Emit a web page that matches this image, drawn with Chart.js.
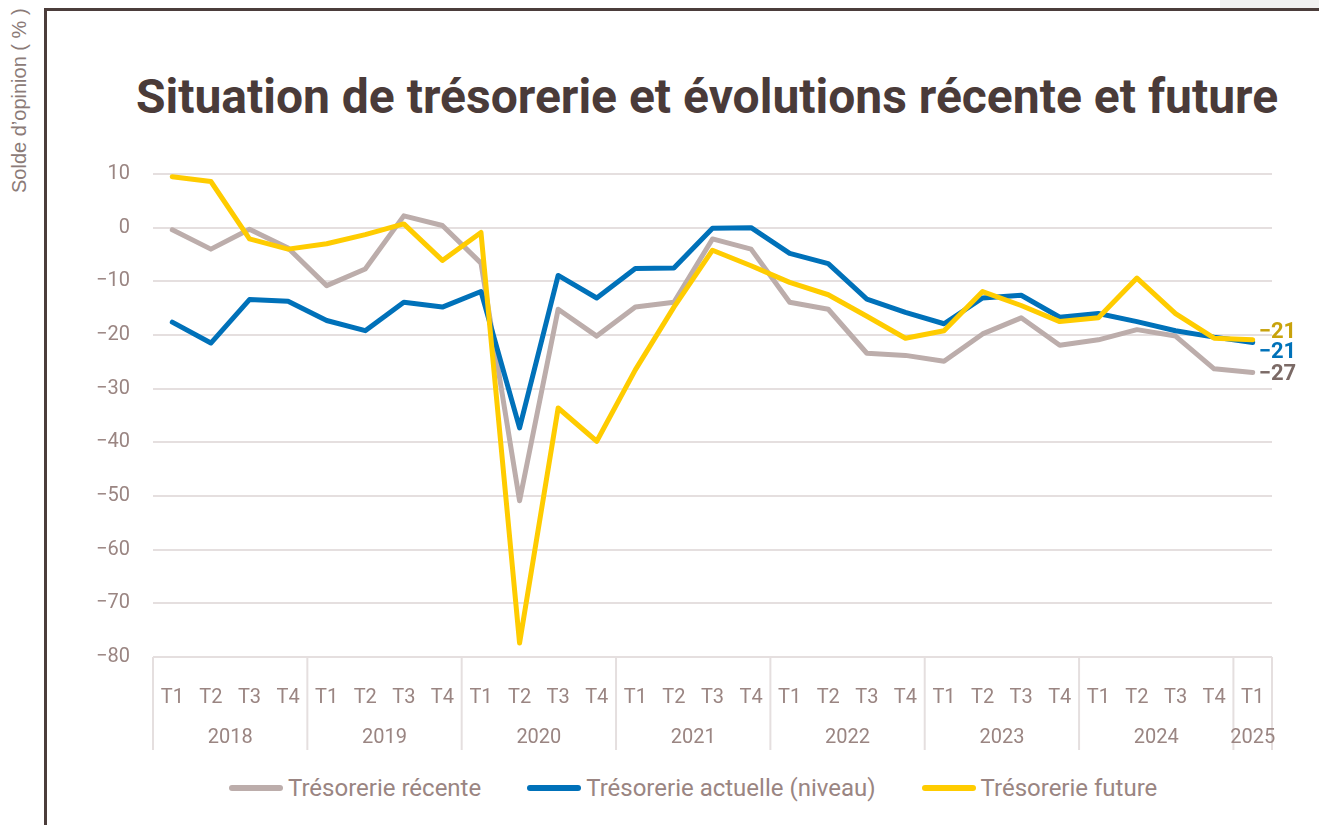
<!DOCTYPE html>
<html lang="fr">
<head>
<meta charset="utf-8">
<script src="https://cdn.jsdelivr.net/npm/chart.js@4.4.1/dist/chart.umd.min.js"></script>
<style>
  html, body { margin: 0; padding: 0; background: #fff; }
  body { width: 1319px; height: 825px; position: relative; overflow: hidden; font-family: Roboto, "DejaVu Sans", sans-serif; }
  #patch { position: absolute; left: 1220px; top: 0; width: 99px; height: 8px; background: #f1f1f1; }
  #frame { position: absolute; left: 44px; top: 8px; right: -10px; bottom: -10px; border-top: 3px solid #4b3d3b; border-left: 3px solid #4b3d3b; }
  #ytitle { position: absolute; left: 19px; top: 193px; transform-origin: 0 0; transform: rotate(-90deg) translateY(-50%);
            font-family: "Liberation Sans", Arial, sans-serif; font-size: 20px; color: #8b7b78; white-space: nowrap; }
  #title { position: absolute; left: 0; width: 1414px; top: 68px; text-align: center; font-size: 48px; font-weight: 700; color: #4a3b39; white-space: nowrap; }
  #legend { position: absolute; left: 229px; top: 774px; display: flex; align-items: center; font-size: 24px; color: #9a8582; }
  .item { display: flex; align-items: center; margin-right: 46px; }
  .swatch { width: 54px; height: 6px; border-radius: 3px; margin-right: 5px; }
  canvas { position: absolute; left: 0; top: 0; }
</style>
</head>
<body>
<div id="patch"></div>
<div id="frame"></div>
<div id="ytitle">Solde d’opinion ( % )</div>
<div id="title">Situation de trésorerie et évolutions récente et future</div>
<div id="legend"></div>
<canvas id="c" width="1319" height="825"></canvas>
<script>
'use strict';

/* ── Données ───────────────────────────────────────────── */
const trimestres = ['T1','T2','T3','T4','T1','T2','T3','T4','T1','T2','T3','T4','T1','T2','T3','T4',
                    'T1','T2','T3','T4','T1','T2','T3','T4','T1','T2','T3','T4','T1'];
const annees = ['2018','2018','2018','2018','2019','2019','2019','2019','2020','2020','2020','2020',
                '2021','2021','2021','2021','2022','2022','2022','2022','2023','2023','2023','2023',
                '2024','2024','2024','2024','2025'];
const tresoRecente = [-0.4, -4.0, -0.3, -3.8, -10.8, -7.7, 2.2, 0.4, -6.6, -50.9, -15.2, -20.2,
                      -14.8, -13.9, -2.1, -4.0, -13.9, -15.2, -23.4, -23.8, -24.9, -19.8, -16.8, -21.9,
                      -20.9, -19.0, -20.2, -26.3, -27.0];
const tresoActuelle = [-17.6, -21.5, -13.4, -13.7, -17.3, -19.2, -13.9, -14.8, -11.9, -37.3, -8.9, -13.1,
                       -7.6, -7.5, -0.1, 0.0, -4.8, -6.7, -13.3, -15.8, -17.9, -13.1, -12.6, -16.7,
                       -16.0, -17.5, -19.2, -20.4, -21.4];
const tresoFuture = [9.5, 8.6, -2.1, -4.0, -3.0, -1.3, 0.7, -6.1, -0.9, -77.4, -33.6, -39.8,
                     -26.5, -14.8, -4.2, -7.1, -10.2, -12.5, -16.5, -20.6, -19.2, -11.9, -14.5, -17.5,
                     -16.8, -9.4, -16.0, -20.6, -20.9];
const seriesNoms = ['Trésorerie récente', 'Trésorerie actuelle (niveau)', 'Trésorerie future'];
const yTicks = [10, 0, -10, -20, -30, -40, -50, -60, -70, -80];

const COL = { recente: '#bcadab', actuelle: '#0071b9', future: '#ffcc00', tick: '#9a8582', grid: '#e5dfdf' };
const endLabel = [
  { color: '#7b6a66', dy: 2 },
  { color: '#0071b9', dy: 10 },
  { color: '#c8a20c', dy: -7 }
];
const minus = v => String(v).replace('-', '\u2212');

/* ── Légende HTML ──────────────────────────────────────── */
const legCols = [COL.recente, COL.actuelle, COL.future];
document.getElementById('legend').innerHTML = seriesNoms.map((n, i) =>
  `<div class="item"><div class="swatch" style="background:${legCols[i]}"></div><span>${n}</span></div>`).join('');

/* ── Plugins ───────────────────────────────────────────── */
const yearAxis = {
  id: 'yearAxis',
  afterDraw(chart) {
    const { ctx, chartArea: a, scales: { x } } = chart;
    const half = (x.getPixelForValue(1) - x.getPixelForValue(0)) / 2;
    ctx.save();
    ctx.strokeStyle = COL.grid;
    ctx.lineWidth = 2;
    const bounds = [];
    let start = 0;
    for (let i = 1; i <= annees.length; i++) {
      if (i === annees.length || annees[i] !== annees[start]) {
        bounds.push([start, i - 1]);
        start = i;
      }
    }
    ctx.font = '20px Roboto, sans-serif';
    ctx.fillStyle = COL.tick;
    ctx.textAlign = 'center';
    ctx.textBaseline = 'middle';
    bounds.forEach(([s, e], k) => {
      const x0 = x.getPixelForValue(s) - half;
      const x1 = x.getPixelForValue(e) + half;
      ctx.beginPath();
      ctx.moveTo(x0, a.bottom); ctx.lineTo(x0, a.bottom + 93);
      if (k === bounds.length - 1) { ctx.moveTo(x1, a.bottom); ctx.lineTo(x1, a.bottom + 93); }
      ctx.stroke();
      ctx.fillText(annees[s], (x0 + x1) / 2, a.bottom + 81);
    });
    ctx.restore();
  }
};

const lastValues = {
  id: 'lastValues',
  afterDatasetsDraw(chart) {
    const { ctx } = chart;
    ctx.save();
    ctx.font = 'bold 22px Roboto, sans-serif';
    ctx.textAlign = 'left';
    ctx.textBaseline = 'middle';
    chart.data.datasets.forEach((ds, i) => {
      const meta = chart.getDatasetMeta(i);
      const p = meta.data[meta.data.length - 1];
      const v = ds.data[ds.data.length - 1];
      ctx.fillStyle = endLabel[i].color;
      ctx.fillText(minus(Math.round(v)), p.x + 6, p.y + endLabel[i].dy);
    });
    ctx.restore();
  }
};

/* ── Graphique ─────────────────────────────────────────── */
const line = (label, data, color, order) => ({
  label, data, borderColor: color, backgroundColor: color, borderWidth: 5,
  pointRadius: 0, tension: 0, borderJoinStyle: 'round', borderCapStyle: 'round', order
});

new Chart(document.getElementById('c'), {
  type: 'line',
  data: {
    labels: trimestres,
    datasets: [
      line(seriesNoms[0], tresoRecente, COL.recente, 2),
      line(seriesNoms[1], tresoActuelle, COL.actuelle, 1),
      line(seriesNoms[2], tresoFuture, COL.future, 0)
    ]
  },
  options: {
    responsive: false,
    animation: false,
    layout: { padding: { top: 174, left: 0, right: 47, bottom: 68 } },
    plugins: { legend: { display: false }, title: { display: false }, tooltip: { enabled: false } },
    scales: {
      x: {
        offset: true,
        grid: { display: false },
        border: { display: false },
        ticks: { color: COL.tick, font: { size: 20, family: 'Roboto' }, padding: 21, maxRotation: 0, autoSkip: false },
        afterFit: s => { s.height = 100; }
      },
      y: {
        min: -80, max: 10,
        afterBuildTicks: s => { s.ticks = yTicks.map(v => ({ value: v })); },
        grid: { color: COL.grid, lineWidth: 2, drawTicks: false },
        border: { display: false },
        ticks: { color: COL.tick, font: { size: 20, family: 'Roboto' }, padding: 23, callback: v => minus(v) },
        afterFit: s => { s.width = 153; }
      }
    }
  },
  plugins: [yearAxis, lastValues]
});
</script>
</body>
</html>
